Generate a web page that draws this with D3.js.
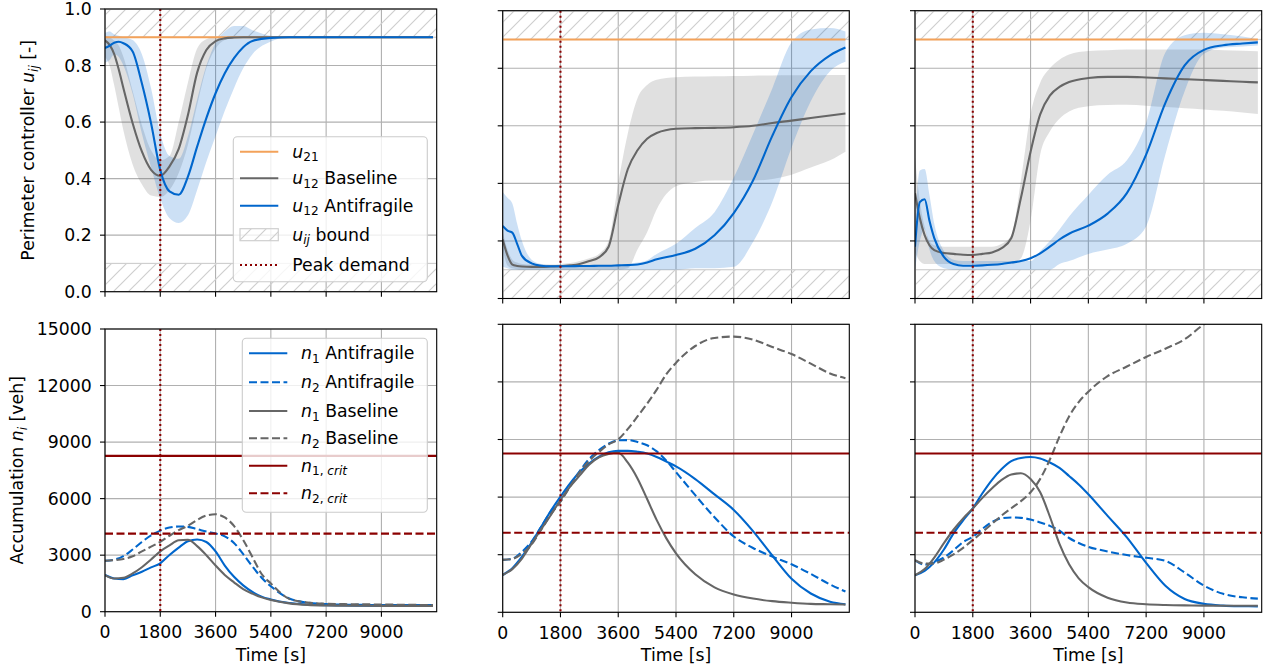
<!DOCTYPE html>
<html>
<head>
<meta charset="utf-8">
<script src="https://cdn.jsdelivr.net/npm/d3@7"></script>
<style>
  body { margin: 0; background: #fff; }
  svg { display: block; }
  text { font-family: "DejaVu Sans", sans-serif; white-space: pre; }
</style>
</head>
<body>
<svg id="fig" width="1266" height="670"></svg>
<script>
// ---------------- data ----------------
// time stamps [s] of the controller traces (top row) and accumulation traces (bottom row)
const timeU = [0,150,300,450,600,900,1200,1500,1800,2100,2400,2700,3000,3300,3600,3900,4200,4500,4800,5400,6000,6600,7200,7800,8400,9000,9600,10200,10680];
const timeN = [0,300,600,900,1200,1500,1800,2100,2400,2700,3000,3300,3600,3900,4200,4500,4800,5100,5400,6000,6600,7200,7800,8400,9000,9600,10200,10680];

const timeTicks = [0,1800,3600,5400,7200,9000];
const uTicks = [0,0.2,0.4,0.6,0.8,1.0];
const nTicks = [0,3000,6000,9000,12000,15000];

const peakDemand = 1800;      // s
const uBounds = [0.1, 0.9];   // admissible controller range
const u21Level = [0.9, 0.9, 0.9];
const nCrit = [8270, 4140];   // n1,crit and n2,crit

// scenario A
const uBaseMeanA = [0.889,0.873,0.84,0.785,0.72,0.596,0.496,0.431,0.41,0.443,0.505,0.625,0.775,0.855,0.886,0.896,0.899,0.9,0.9,0.9,0.9,0.9,0.9,0.9,0.9,0.9,0.9,0.9,0.9];
const uBaseLoA   = [0.83,0.80,0.73,0.65,0.57,0.45,0.38,0.34,0.335,0.36,0.42,0.52,0.66,0.79,0.86,0.89,0.898,0.9,0.9,0.9,0.9,0.9,0.9,0.9,0.9,0.9,0.9,0.9,0.9];
const uBaseHiA   = [0.905,0.9,0.888,0.87,0.83,0.71,0.59,0.5,0.465,0.48,0.6,0.74,0.86,0.893,0.9,0.9,0.9,0.9,0.9,0.9,0.9,0.9,0.9,0.9,0.9,0.9,0.9,0.9,0.9];
const uAfMeanA   = [0.862,0.87,0.881,0.884,0.879,0.85,0.737,0.596,0.43,0.355,0.343,0.407,0.513,0.614,0.702,0.773,0.826,0.865,0.887,0.898,0.9,0.9,0.9,0.9,0.9,0.9,0.9,0.9,0.9];
const uAfLoA     = [0.81,0.82,0.84,0.83,0.8,0.7,0.56,0.44,0.33,0.26,0.243,0.27,0.36,0.46,0.55,0.64,0.72,0.79,0.84,0.885,0.9,0.9,0.9,0.9,0.9,0.9,0.9,0.9,0.9];
const uAfHiA     = [0.915,0.92,0.91,0.905,0.9,0.89,0.84,0.72,0.56,0.48,0.47,0.55,0.68,0.8,0.88,0.92,0.94,0.94,0.925,0.905,0.9,0.9,0.9,0.9,0.9,0.9,0.9,0.9,0.9];
const n1AfA   = [1945,1760,1730,1930,2120,2350,2570,3010,3400,3740,3830,3700,3200,2450,1850,1400,1050,800,650,460,380,345,325,312,305,302,300,300];
const n2AfA   = [2700,2760,2950,3300,3700,4050,4300,4470,4520,4500,4380,4250,4150,4000,3650,3050,2400,1800,1350,700,480,400,370,360,355,350,350,350];
const n1BaseA = [1945,1760,1800,2030,2360,2770,3200,3520,3790,3820,3480,3000,2450,1950,1560,1200,960,760,620,440,360,330,320,315,310,310,310,310];
const n2BaseA = [2700,2740,2800,2940,3200,3450,3710,4030,4330,4560,4870,5100,5170,5000,4550,3800,2900,2000,1500,680,480,420,400,390,380,370,360,355];

// scenario B
const uBaseMeanB = [0.205,0.15,0.118,0.113,0.111,0.11,0.11,0.111,0.112,0.115,0.12,0.13,0.143,0.18,0.325,0.45,0.515,0.555,0.575,0.59,0.592,0.593,0.595,0.6,0.61,0.618,0.627,0.636,0.643];
const uBaseLoB   = [0.17,0.115,0.105,0.102,0.1,0.1,0.1,0.1,0.1,0.1,0.1,0.1,0.1,0.1,0.1,0.105,0.17,0.23,0.31,0.39,0.405,0.41,0.41,0.41,0.415,0.43,0.455,0.48,0.51];
const uBaseHiB   = [0.23,0.17,0.135,0.125,0.12,0.118,0.118,0.118,0.12,0.123,0.13,0.14,0.155,0.2,0.4,0.574,0.696,0.742,0.76,0.769,0.771,0.772,0.773,0.774,0.775,0.776,0.776,0.777,0.777];
const uAfMeanB   = [0.252,0.236,0.229,0.19,0.148,0.122,0.114,0.112,0.112,0.112,0.113,0.113,0.114,0.114,0.115,0.116,0.118,0.125,0.136,0.151,0.173,0.22,0.297,0.41,0.565,0.7,0.79,0.845,0.872];
const uAfLoB     = [0.11,0.105,0.1,0.1,0.1,0.1,0.1,0.1,0.1,0.1,0.1,0.1,0.1,0.1,0.1,0.1,0.1,0.1,0.1,0.1,0.105,0.105,0.11,0.196,0.335,0.524,0.685,0.79,0.823];
const uAfHiB     = [0.37,0.35,0.33,0.26,0.2,0.135,0.12,0.116,0.116,0.116,0.116,0.116,0.116,0.116,0.116,0.12,0.125,0.133,0.155,0.19,0.245,0.3,0.42,0.572,0.73,0.89,0.935,0.94,0.928];
const n1AfB   = [1944,2300,2900,3630,4450,5290,6030,6720,7310,7760,8100,8330,8410,8410,8360,8270,8090,7850,7600,6940,6140,5330,4230,2960,1750,980,555,417];
const n2AfB   = [2730,2790,3150,3680,4450,5250,5800,6600,7350,8000,8450,8780,8960,8970,8870,8700,8380,7900,7300,6100,4950,3950,3350,2900,2500,2000,1450,1080];
const n1BaseB = [1944,2250,2800,3570,4330,5070,5850,6550,7130,7700,8070,8250,8310,7790,6970,5900,4800,3850,3070,1980,1300,930,715,580,500,440,420,400];
const n2BaseB = [2730,2780,3050,3530,4300,5100,5760,6550,7300,7900,8350,8740,9010,9550,10200,10870,11600,12400,12990,13870,14290,14360,14200,13820,13450,12950,12440,12190];

// scenario C
const uBaseMeanC = [0.366,0.28,0.22,0.185,0.168,0.158,0.155,0.152,0.151,0.155,0.16,0.175,0.21,0.35,0.51,0.64,0.705,0.735,0.752,0.766,0.77,0.77,0.768,0.765,0.762,0.759,0.756,0.753,0.751];
const uBaseLoC   = [0.16,0.13,0.12,0.12,0.12,0.12,0.12,0.12,0.12,0.12,0.12,0.12,0.12,0.14,0.27,0.5,0.58,0.625,0.65,0.668,0.672,0.673,0.67,0.665,0.661,0.657,0.652,0.646,0.641];
const uBaseHiC   = [0.49,0.34,0.25,0.2,0.185,0.18,0.18,0.18,0.18,0.18,0.18,0.19,0.22,0.41,0.64,0.75,0.8,0.83,0.848,0.86,0.863,0.865,0.865,0.865,0.865,0.865,0.863,0.861,0.859];
const uAfMeanC   = [0.18,0.335,0.345,0.27,0.21,0.145,0.12,0.114,0.114,0.115,0.117,0.12,0.125,0.13,0.14,0.157,0.18,0.205,0.225,0.253,0.295,0.366,0.5,0.68,0.81,0.864,0.88,0.886,0.89];
const uAfLoC     = [0.1,0.2,0.24,0.17,0.13,0.105,0.1,0.1,0.1,0.1,0.1,0.1,0.1,0.1,0.1,0.1,0.1,0.12,0.13,0.155,0.17,0.19,0.25,0.5,0.72,0.85,0.872,0.876,0.879];
const uAfHiC     = [0.25,0.445,0.45,0.36,0.26,0.165,0.135,0.13,0.13,0.13,0.13,0.13,0.13,0.13,0.13,0.165,0.2,0.24,0.285,0.36,0.43,0.48,0.61,0.855,0.915,0.923,0.918,0.91,0.9];
const n1AfC   = [1930,2160,2600,3270,4110,4790,5410,6200,6900,7460,7870,8040,8090,8010,7800,7520,7100,6660,6150,5020,3900,2570,1380,690,440,350,320,310];
const n2AfC   = [2710,2480,2620,2850,3230,3660,3930,4350,4700,4900,4940,4920,4830,4680,4500,4250,3870,3610,3410,3170,2980,2840,2680,2070,1390,960,780,713];
const n1BaseC = [1930,2250,2850,3600,4300,4890,5400,5960,6460,6900,7180,7240,6940,6250,4990,3560,2500,1770,1310,760,510,420,380,360,350,345,345,345];
const n2BaseC = [2710,2537,2550,2745,3020,3360,3760,4180,4610,5040,5420,5790,6250,6950,7950,9150,10200,10950,11490,12300,12800,13300,13730,14220,15000,15600,16100,16500];

const scenarios = [
  {uBase:[uBaseLoA,uBaseMeanA,uBaseHiA], uAf:[uAfLoA,uAfMeanA,uAfHiA], n:[n1AfA,n2AfA,n1BaseA,n2BaseA]},
  {uBase:[uBaseLoB,uBaseMeanB,uBaseHiB], uAf:[uAfLoB,uAfMeanB,uAfHiB], n:[n1AfB,n2AfB,n1BaseB,n2BaseB]},
  {uBase:[uBaseLoC,uBaseMeanC,uBaseHiC], uAf:[uAfLoC,uAfMeanC,uAfHiC], n:[n1AfC,n2AfC,n1BaseC,n2BaseC]}
];

// ---------------- style ----------------
const C_AF = "#0066cc", C_BASE = "#666666", C_U21 = "#f3a25a", C_CRIT = "#8b0000";
const C_GRID = "#b0b0b0", C_HATCH = "#cfcfcf";
const FS = 17.3, LW = 2.1, DASH = "8,3.5", DOT = "2,3";

// axes boxes (left column is a little narrower)
const layout = [
  {x:[105,436.7],  top:[9,291.7],   bot:[329,611.7]},
  {x:[502.7,849.3],top:[10.7,298.5],bot:[324.3,612.3]},
  {x:[915,1261.7], top:[10.7,298.5],bot:[324.3,612.3]}
];

const svg = d3.select("#fig");
const defs = svg.append("defs");
const hp = defs.append("pattern").attr("id","hatch").attr("patternUnits","userSpaceOnUse")
  .attr("width",15).attr("height",15);
hp.append("path").attr("d","M-2,2 L2,-2 M0,15 L15,0 M13,17 L17,13")
  .attr("stroke",C_HATCH).attr("stroke-width",1.2).attr("fill","none");

// text with mathtext-like italics and subscripts
function rich(sel, parts) {
  let shifted = false;
  parts.forEach(([s,k]) => {
    const t = sel.append("tspan").text(s);
    const sub = k === "sub" || k === "subi";
    if (k === "i" || k === "subi") t.attr("font-style","italic");
    if (sub) {
      t.attr("font-size", FS*0.7);
      if (!shifted) { t.attr("dy", 3.6); shifted = true; }
    } else if (shifted) { t.attr("dy", -3.6); shifted = false; }
  });
  return sel;
}

const lineGen = (xs, ys, t, v) => d3.line()
  .x((d,i) => xs(t[i])).y((d,i) => ys(v[i])).curve(d3.curveMonotoneX)(t);
const areaGen = (xs, ys, t, lo, hi) => d3.area()
  .x((d,i) => xs(t[i])).y0((d,i) => ys(lo[i])).y1((d,i) => ys(hi[i])).curve(d3.curveMonotoneX)(t);

let clipId = 0;
function makeAxes(xr, yr, ydom, yTicks, showYLabels, showXLabels, yFmt) {
  const xs = d3.scaleLinear().domain([0,10800]).range(xr);
  const ys = d3.scaleLinear().domain(ydom).range([yr[1], yr[0]]);
  const g = svg.append("g");
  const id = "clip" + (clipId++);
  defs.append("clipPath").attr("id", id).append("rect")
    .attr("x", xr[0]).attr("y", yr[0]).attr("width", xr[1]-xr[0]).attr("height", yr[1]-yr[0]);
  const grid = g.append("g");
  timeTicks.forEach(t => grid.append("line").attr("x1",xs(t)).attr("x2",xs(t))
    .attr("y1",yr[0]).attr("y2",yr[1]).attr("stroke",C_GRID).attr("stroke-width",1.1));
  yTicks.forEach(v => grid.append("line").attr("x1",xr[0]).attr("x2",xr[1])
    .attr("y1",ys(v)).attr("y2",ys(v)).attr("stroke",C_GRID).attr("stroke-width",1.1));
  const plot = g.append("g").attr("clip-path", `url(#${id})`);
  const frame = g.append("g");
  return {xs, ys, plot, frame, finish() {
    frame.append("rect").attr("x",xr[0]).attr("y",yr[0]).attr("width",xr[1]-xr[0]).attr("height",yr[1]-yr[0])
      .attr("fill","none").attr("stroke","#000").attr("stroke-width",1.1);
    timeTicks.forEach(t => {
      frame.append("line").attr("x1",xs(t)).attr("x2",xs(t)).attr("y1",yr[1]).attr("y2",yr[1]+5)
        .attr("stroke","#000").attr("stroke-width",1.1);
      if (showXLabels) frame.append("text").attr("x",xs(t)).attr("y",yr[1]+26.3)
        .attr("text-anchor","middle").attr("font-size",FS).text(String(t));
    });
    yTicks.forEach(v => {
      frame.append("line").attr("x1",xr[0]-5).attr("x2",xr[0]).attr("y1",ys(v)).attr("y2",ys(v))
        .attr("stroke","#000").attr("stroke-width",1.1);
      if (showYLabels) frame.append("text").attr("x",xr[0]-13.3).attr("y",ys(v)).attr("dy","0.36em")
        .attr("text-anchor","end").attr("font-size",FS).text(yFmt(v));
    });
  }};
}

layout.forEach((L, k) => {
  const S = scenarios[k];
  // ---- perimeter controller ----
  const A = makeAxes(L.x, L.top, [0,1], uTicks, k === 0, false, d3.format(".1f"));
  const {xs, ys, plot} = A;
  // bound regions
  plot.append("rect").attr("x",L.x[0]).attr("width",L.x[1]-L.x[0])
    .attr("y",ys(1)).attr("height",ys(uBounds[1])-ys(1))
    .attr("fill","url(#hatch)").attr("stroke",C_HATCH).attr("stroke-width",1.2);
  plot.append("rect").attr("x",L.x[0]).attr("width",L.x[1]-L.x[0])
    .attr("y",ys(uBounds[0])).attr("height",ys(0)-ys(uBounds[0]))
    .attr("fill","url(#hatch)").attr("stroke",C_HATCH).attr("stroke-width",1.2);
  // spread bands
  plot.append("path").attr("d",areaGen(xs,ys,timeU,S.uBase[0],S.uBase[2])).attr("fill",C_BASE).attr("fill-opacity",0.2);
  plot.append("path").attr("d",areaGen(xs,ys,timeU,S.uAf[0],S.uAf[2])).attr("fill",C_AF).attr("fill-opacity",0.2);
  // mean lines
  const tEnds = [timeU[0], timeU[timeU.length-1]];
  plot.append("path").attr("d",lineGen(xs,ys,tEnds,[u21Level[k],u21Level[k]]))
    .attr("fill","none").attr("stroke",C_U21).attr("stroke-width",LW);
  plot.append("path").attr("d",lineGen(xs,ys,timeU,S.uBase[1])).attr("fill","none").attr("stroke",C_BASE).attr("stroke-width",LW);
  plot.append("path").attr("d",lineGen(xs,ys,timeU,S.uAf[1])).attr("fill","none").attr("stroke",C_AF).attr("stroke-width",LW);
  plot.append("line").attr("x1",xs(peakDemand)).attr("x2",xs(peakDemand)).attr("y1",L.top[0]).attr("y2",L.top[1])
    .attr("stroke",C_CRIT).attr("stroke-width",LW).attr("stroke-dasharray",DOT);
  A.finish();

  // ---- accumulation ----
  const B = makeAxes(L.x, L.bot, [0,15000], nTicks, k === 0, true, d3.format("d"));
  const p2 = B.plot, xb = B.xs, yb = B.ys;
  const nStyles = [[C_AF,null],[C_AF,DASH],[C_BASE,null],[C_BASE,DASH]];
  S.n.forEach((vals, j) => {
    const p = p2.append("path").attr("d",lineGen(xb,yb,timeN,vals)).attr("fill","none")
      .attr("stroke",nStyles[j][0]).attr("stroke-width",LW);
    if (nStyles[j][1]) p.attr("stroke-dasharray",nStyles[j][1]);
  });
  nCrit.forEach((v, j) => {
    const p = p2.append("line").attr("x1",L.x[0]).attr("x2",L.x[1]).attr("y1",yb(v)).attr("y2",yb(v))
      .attr("stroke",C_CRIT).attr("stroke-width",LW);
    if (j === 1) p.attr("stroke-dasharray",DASH);
  });
  p2.append("line").attr("x1",xb(peakDemand)).attr("x2",xb(peakDemand)).attr("y1",L.bot[0]).attr("y2",L.bot[1])
    .attr("stroke",C_CRIT).attr("stroke-width",LW).attr("stroke-dasharray",DOT);
  B.finish();

  svg.append("text").attr("x",(L.x[0]+L.x[1])/2).attr("y",661).attr("text-anchor","middle")
    .attr("font-size",FS).text("Time [s]");
});

// axis titles
rich(svg.append("text").attr("font-size",FS).attr("text-anchor","middle")
  .attr("transform","translate(34,150.3) rotate(-90)"),
  [["Perimeter controller ","n"],["u","i"],["ij","subi"],[" [-]","n"]]);
rich(svg.append("text").attr("font-size",FS).attr("text-anchor","middle")
  .attr("transform","translate(23,470.3) rotate(-90)"),
  [["Accumulation ","n"],["n","i"],["i","subi"],[" [veh]","n"]]);

// legends
function legend(box, hx, tx, entries) {
  const g = svg.append("g");
  g.append("rect").attr("x",box[0]).attr("y",box[1]).attr("width",box[2]).attr("height",box[3])
    .attr("rx",4).attr("fill","#fff").attr("fill-opacity",0.8).attr("stroke","#cccccc").attr("stroke-width",1.1);
  entries.forEach(e => {
    if (e.kind === "patch") {
      g.append("rect").attr("x",hx[0]).attr("y",e.y-6).attr("width",hx[1]-hx[0]).attr("height",12)
        .attr("fill","url(#hatch)").attr("stroke",C_HATCH).attr("stroke-width",1.2);
    } else {
      const l = g.append("line").attr("x1",hx[0]).attr("x2",hx[1]).attr("y1",e.y).attr("y2",e.y)
        .attr("stroke",e.color).attr("stroke-width",LW);
      if (e.dash) l.attr("stroke-dasharray",e.dash);
    }
    rich(g.append("text").attr("x",tx).attr("y",e.y+6).attr("font-size",FS), e.label);
  });
}
legend([233.3,136.7,194,145],[240,278.3],292.3,[
  {y:151.7, color:C_U21, label:[["u","i"],["21","sub"]]},
  {y:178.3, color:C_BASE, label:[["u","i"],["12","sub"],[" Baseline","n"]]},
  {y:205.7, color:C_AF, label:[["u","i"],["12","sub"],[" Antifragile","n"]]},
  {y:234.7, kind:"patch", label:[["u","i"],["ij","subi"],[" bound","n"]]},
  {y:265, color:C_CRIT, dash:DOT, label:[["Peak demand","n"]]}
]);
legend([242.3,338.3,185,174],[249,287.3],301,[
  {y:353.3, color:C_AF, label:[["n","i"],["1","sub"],[" Antifragile","n"]]},
  {y:382.3, color:C_AF, dash:DASH, label:[["n","i"],["2","sub"],[" Antifragile","n"]]},
  {y:411, color:C_BASE, label:[["n","i"],["1","sub"],[" Baseline","n"]]},
  {y:438.3, color:C_BASE, dash:DASH, label:[["n","i"],["2","sub"],[" Baseline","n"]]},
  {y:465.7, color:C_CRIT, label:[["n","i"],["1, ","sub"],["crit","subi"]]},
  {y:493.3, color:C_CRIT, dash:DASH, label:[["n","i"],["2, ","sub"],["crit","subi"]]}
]);
</script>
</body>
</html>
